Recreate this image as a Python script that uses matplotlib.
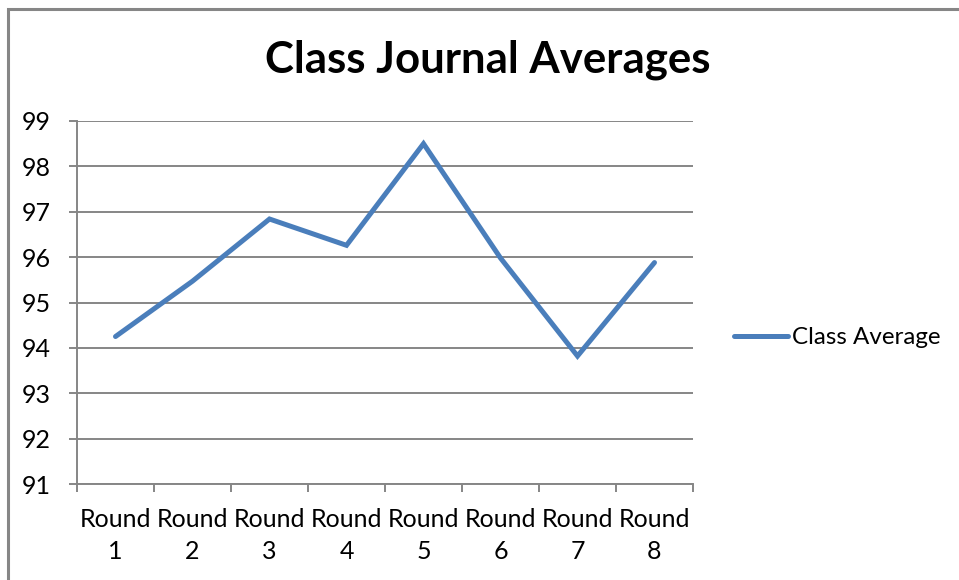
import matplotlib
matplotlib.use("Agg")
import matplotlib.pyplot as plt
from matplotlib.lines import Line2D
from matplotlib.patches import Rectangle

rounds = ["Round\n1", "Round\n2", "Round\n3", "Round\n4",
          "Round\n5", "Round\n6", "Round\n7", "Round\n8"]
class_average = [94.25, 95.47, 96.84, 96.26, 98.5, 95.98, 93.82, 95.88]
y_ticks = [91, 92, 93, 94, 95, 96, 97, 98, 99]

plt.rcParams["font.family"] = ["Lato", "DejaVu Sans"]
LINE_COLOR = "#4A7EBB"
GRID_COLOR = "#868686"

fig = plt.figure(figsize=(9.59, 5.8), dpi=100)
ax = fig.add_axes([77 / 959, 96 / 580, 616 / 959, 363 / 580])

x = list(range(1, len(rounds) + 1))
ax.plot(x, class_average, color=LINE_COLOR, linewidth=3.6,
        solid_capstyle="round", solid_joinstyle="miter")

ax.set_xlim(0.5, len(rounds) + 0.5)
ax.set_ylim(91, 99)
ax.set_yticks(y_ticks)
ax.set_yticklabels([str(v) for v in y_ticks])
ax.set_xticks(x)
ax.set_xticklabels(rounds, linespacing=1.5)
ax.set_xticks([i + 0.5 for i in range(0, len(rounds) + 1)], minor=True)

ax.grid(axis="y", color=GRID_COLOR, linewidth=1.4)
ax.set_axisbelow(True)
for side in ["top", "right"]:
    ax.spines[side].set_visible(False)
for side in ["left", "bottom"]:
    ax.spines[side].set_color(GRID_COLOR)
    ax.spines[side].set_linewidth(1.4)

ax.tick_params(axis="x", which="major", length=0, pad=17, labelsize=18)
ax.tick_params(axis="x", which="minor", length=6, width=1.4, color=GRID_COLOR)
ax.tick_params(axis="y", length=6, width=1.4, color=GRID_COLOR, pad=13, labelsize=18)

fig.text(488 / 959, 1 - 60 / 580, "Class Journal Averages",
         ha="center", va="center", fontsize=31.5, fontweight="bold")

handle = Line2D([0], [0], color=LINE_COLOR, linewidth=3.6, solid_capstyle="round")
fig.legend([handle], ["Class Average"], loc="center left",
           bbox_to_anchor=(734 / 959, 1 - 338 / 580), frameon=False,
           fontsize=17.4, handlelength=2.25, handletextpad=0.15,
           borderpad=0, borderaxespad=0)

fig.patches.append(Rectangle((7.5 / 959, -0.1), 1.2, 1.1 - 8.5 / 580,
                             transform=fig.transFigure, fill=False,
                             edgecolor=GRID_COLOR, linewidth=2.2))

fig.savefig("out.png", dpi=100)
